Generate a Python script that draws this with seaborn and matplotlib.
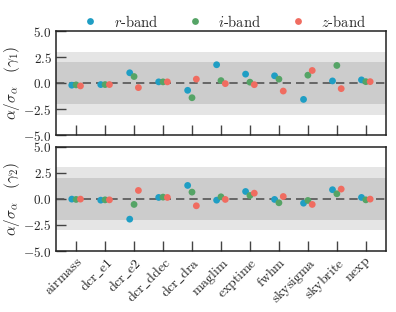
import matplotlib
matplotlib.use("Agg")
import matplotlib.pyplot as plt
import numpy as np
import pandas as pd
import seaborn as sns

features = ["airmass", "dcr_e1", "dcr_e2", "dcr_ddec", "dcr_dra", "maglim",
            "exptime", "fwhm", "skysigma", "skybrite", "nexp"]
bands = ["r", "i", "z"]
band_colors = ["#1f9ec4", "#55a466", "#f06c60"]

# alpha / sigma_alpha for gamma_1
g1_r = [-0.19, -0.13, 1.00, 0.13, -0.68, 1.77, 0.87, 0.71, -1.55, 0.22, 0.32]
g1_i = [-0.16, -0.13, 0.64, 0.13, -1.39, 0.25, 0.10, 0.39, 0.77, 1.70, 0.15]
g1_z = [-0.26, -0.13, -0.42, 0.13, 0.39, -0.04, -0.14, -0.75, 1.22, -0.52, 0.15]

# alpha / sigma_alpha for gamma_2
g2_r = [-0.03, -0.13, -1.95, 0.13, 1.28, -0.13, 0.70, -0.06, -0.42, 0.87, 0.13]
g2_i = [-0.06, -0.10, -0.54, 0.16, 0.64, 0.19, 0.32, -0.38, -0.16, 0.48, -0.10]
g2_z = [-0.03, -0.10, 0.80, 0.13, -0.67, -0.06, 0.54, 0.22, -0.54, 0.93, -0.03]

band_offset = {"r": -0.15, "i": 0.0, "z": 0.15}


def long_table(vals_r, vals_i, vals_z):
    rows = []
    for band, vals in zip(bands, [vals_r, vals_i, vals_z]):
        for k, v in enumerate(vals):
            rows.append({"pos": k + band_offset[band], "val": v,
                         "band": "$%s$-band" % band})
    return pd.DataFrame(rows)


sns.set_style("white")
plt.rcParams["font.family"] = ["cmr10", "DejaVu Serif"]
plt.rcParams["mathtext.fontset"] = "cm"
plt.rcParams["axes.formatter.use_mathtext"] = True
plt.rcParams["axes.unicode_minus"] = True

fig, axes = plt.subplots(2, 1, figsize=(3.96, 3.12), dpi=100, sharex=True)
fig.subplots_adjust(left=0.141, right=0.975, top=0.9006, bottom=0.1955, hspace=0.107)

palette = dict(zip(["$%s$-band" % b for b in bands], band_colors))
tables = [long_table(g1_r, g1_i, g1_z), long_table(g2_r, g2_i, g2_z)]
labels = [r"$\alpha/\sigma_\alpha\quad(\gamma_1)$", r"$\alpha/\sigma_\alpha\quad(\gamma_2)$"]

for n, (ax, df) in enumerate(zip(axes, tables)):
    ax.axhspan(-3, 3, color="#e5e5e5", lw=0, zorder=0)
    ax.axhspan(-2, 2, color="#cccccc", lw=0, zorder=0)
    ax.axhline(0, color="#555555", ls=(0, (5, 3)), lw=1.2, zorder=1)
    sns.scatterplot(data=df, x="pos", y="val", hue="band", palette=palette,
                    s=24, linewidth=0, ax=ax, zorder=3, legend=(n == 0))
    ax.set_ylim(-5, 5)
    ax.set_xlim(-0.7, 10.7)
    ax.set_yticks([-5, -2.5, 0, 2.5, 5])
    ax.set_yticklabels(["$-5.0$", "$-2.5$", "$0.0$", "$2.5$", "$5.0$"], fontsize=9.5)
    ax.set_ylabel(labels[n], fontsize=11, labelpad=1)
    ax.set_xlabel("")
    ax.tick_params(axis="both", direction="in", length=7, width=1,
                   color="#444444", left=True, bottom=True, pad=3)
    for sp in ax.spines.values():
        sp.set_color("#222222")
        sp.set_linewidth(1.1)

tick_text = [r"$\mathrm{%s}$" % f.replace("_", r"\_") for f in features]
axes[1].set_xticks(range(len(features)))
axes[1].set_xticklabels(tick_text, rotation=45, ha="right", rotation_mode="anchor",
                        fontsize=10)
axes[0].tick_params(labelbottom=False)

leg = axes[0].legend(loc="lower center", bbox_to_anchor=(0.5, 0.93), ncol=3,
                     frameon=False, fontsize=10.5, handletextpad=0.6,
                     columnspacing=1.5, borderaxespad=0.2)
leg.set_title(None)

fig.savefig("out.png", dpi=100)
